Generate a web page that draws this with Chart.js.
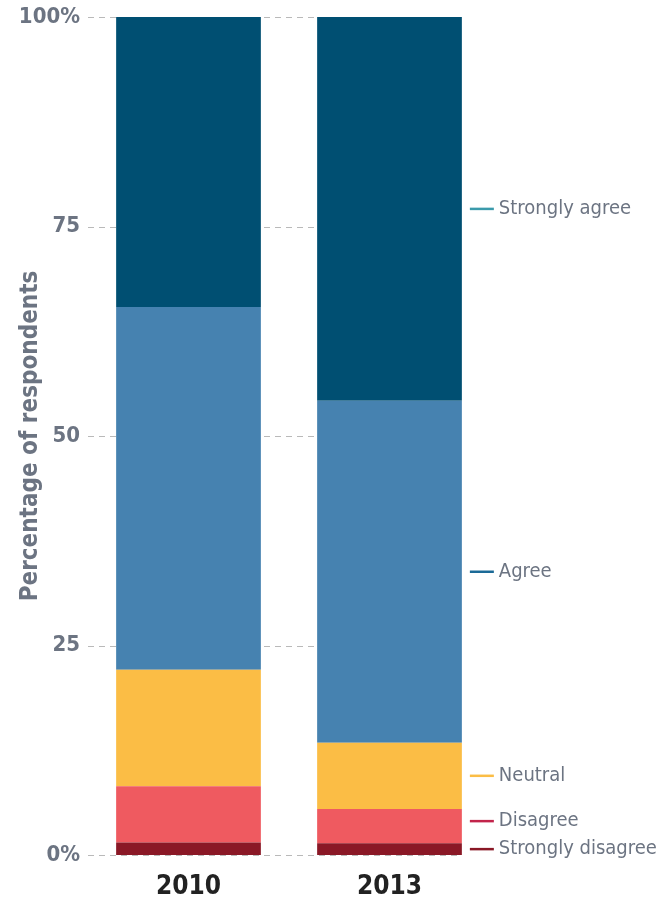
<!DOCTYPE html>
<html>
<head>
<meta charset="utf-8">
<title>Percentage of respondents</title>
<script src="https://cdn.jsdelivr.net/npm/chart.js@4"></script>
<style>
    html, body { margin: 0; padding: 0; background: #fff; }
    #wrap { width: 664px; height: 899px; position: relative; }
</style>
</head>
<body>
<div id="wrap"><canvas id="surveyChart"></canvas></div>
<script>
// survey years
const years = ['2010', '2013'];

// answers, bottom of the stack first
const answers = ['Strongly disagree', 'Disagree', 'Neutral', 'Agree', 'Strongly agree'];

// percentages per answer, one value per year
const stronglyDisagree = [1.5, 1.4];
const disagree = [6.7, 4.1];
const neutral = [13.9, 7.9];
const agree = [43.3, 40.8];
const stronglyAgree = [34.6, 45.8];

const yTicks = [0, 25, 50, 75, 100];
const yTickLabels = ['0%', '25', '50', '75', '100%'];

const barColors = ['#8a1826', '#ef5a60', '#fbbd45', '#4682b0', '#004f72'];
const dashColors = ['#8a1826', '#c2244b', '#fbbd45', '#1b6a97', '#3b9aab'];

const FONT = "'Liberation Sans Narrow', 'DejaVu Sans Condensed', 'Roboto', sans-serif";
const GREY = '#6c7482';

const allValues = [stronglyDisagree, disagree, neutral, agree, stronglyAgree];

// dashed grid lines, stopping at the right edge of the last bar
const dashedGrid = {
    id: 'dashedGrid',
    beforeDatasetsDraw(chart) {
        const ctx = chart.ctx;
        const y = chart.scales.y;
        const lastBar = chart.getDatasetMeta(0).data[years.length - 1];
        const right = lastBar.x + lastBar.width / 2;
        ctx.save();
        ctx.strokeStyle = '#b9b9b9';
        ctx.lineWidth = 1;
        ctx.setLineDash([6, 5]);
        yTicks.forEach(t => {
            const py = Math.round(y.getPixelForValue(t)) + 0.5;
            ctx.beginPath();
            ctx.moveTo(chart.chartArea.left, py);
            ctx.lineTo(right, py);
            ctx.stroke();
        });
        ctx.restore();
    }
};

// answer names beside the 2013 bar, each at the middle of its segment
const sideLabels = {
    id: 'sideLabels',
    afterDatasetsDraw(chart) {
        const ctx = chart.ctx;
        const y = chart.scales.y;
        const idx = years.length - 1;
        const bar = chart.getDatasetMeta(0).data[idx];
        const x0 = bar.x + bar.width / 2 + 8;
        let base = 0;
        let prevY = Infinity;
        ctx.save();
        ctx.font = '20px ' + FONT;
        ctx.textBaseline = 'middle';
        allValues.forEach((vals, i) => {
            const v = vals[idx];
            let py = y.getPixelForValue(base + v / 2);
            base += v;
            py = Math.min(py, prevY - 28);
            prevY = py;
            ctx.strokeStyle = dashColors[i];
            ctx.lineWidth = 2.5;
            ctx.beginPath();
            ctx.moveTo(x0, py);
            ctx.lineTo(x0 + 24, py);
            ctx.stroke();
            ctx.fillStyle = GREY;
            ctx.fillText(answers[i], x0 + 29, py);
        });
        ctx.restore();
    }
};

const chart = new Chart(document.getElementById('surveyChart'), {
    type: 'bar',
    data: {
        labels: years,
        datasets: answers.map((name, i) => ({
            label: name,
            data: allValues[i],
            backgroundColor: barColors[i],
            borderWidth: 0,
            barPercentage: 0.72,
            categoryPercentage: 1
        }))
    },
    options: {
        responsive: true,
        maintainAspectRatio: false,
        animation: false,
        layout: { padding: { top: 17, right: 174, bottom: 0, left: 0 } },
        plugins: {
            legend: { display: false },
            tooltip: { enabled: false }
        },
        scales: {
            x: {
                stacked: true,
                grid: { display: false },
                border: { display: false },
                ticks: {
                    color: '#222222',
                    font: { family: FONT, size: 26, weight: 'bold' },
                    padding: 9
                },
                afterFit(scale) { scale.height = 44; }
            },
            y: {
                stacked: true,
                min: 0,
                max: 100,
                grid: { display: false },
                border: { display: false },
                afterBuildTicks(scale) {
                    scale.ticks = yTicks.map(v => ({ value: v }));
                },
                ticks: {
                    color: GREY,
                    font: { family: FONT, size: 22, weight: 'bold' },
                    padding: 0,
                    callback: (v) => yTickLabels[yTicks.indexOf(v)]
                },
                title: {
                    display: true,
                    text: 'Percentage of respondents',
                    color: GREY,
                    font: { family: FONT, size: 24, weight: '600' },
                    padding: { top: 16, bottom: 14 }
                },
                afterFit(scale) { scale.width = 88; }
            }
        }
    },
    plugins: [dashedGrid, sideLabels]
});
</script>
</body>
</html>
